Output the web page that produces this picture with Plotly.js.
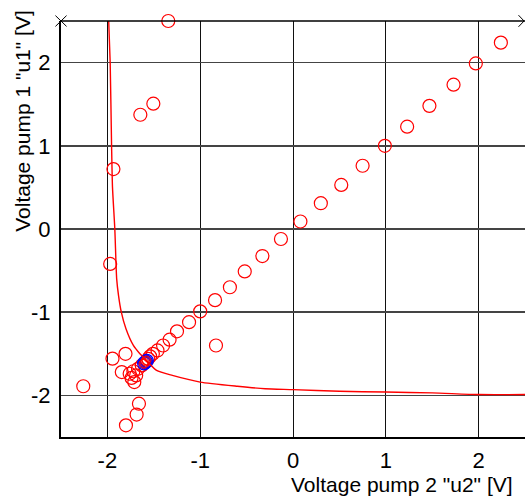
<!DOCTYPE html>
<html><head><meta charset="utf-8">
<script src="https://cdn.plot.ly/plotly-3.0.1.min.js"></script>
<style>html,body{margin:0;padding:0;background:#fff}</style>
</head><body>
<div id="chart" style="width:525px;height:500px"></div>
<script>
// Iteration points (red open circles)
const redX = [2.24, 1.97, 1.73, 1.47, 1.23, 0.99, 0.75, 0.52, 0.30, 0.08, -0.13, -0.33, -0.52, -0.68, -0.84, -1.00, -1.12, -1.25, -1.33, -1.40, -1.46, -1.51, -1.54, -1.56,
  -1.344, -1.505, -1.645, -1.935, -1.97, -0.83, -1.945, -1.805, -1.845, -2.26, -1.66, -1.685, -1.80,
  -1.63, -1.67, -1.72, -1.76, -1.71, -1.74, -1.69];
const redY = [2.24, 1.99, 1.735, 1.48, 1.23, 1.00, 0.76, 0.53, 0.31, 0.09, -0.12, -0.325, -0.51, -0.70, -0.855, -0.99, -1.12, -1.23, -1.33, -1.40, -1.46, -1.50, -1.53, -1.56,
  2.50, 1.506, 1.373, 0.72, -0.42, -1.40, -1.558, -1.50, -1.72, -1.89, -2.10, -2.23, -2.36,
  -1.64, -1.68, -1.71, -1.74, -1.84, -1.79, -1.76];
// Converged points (blue open circles)
const blueX = [-1.575, -1.585, -1.595, -1.605];
const blueY = [-1.585, -1.595, -1.605, -1.615];
// Final cluster drawn on top (red)
const clusterX = [-1.58, -1.59, -1.60, -1.61];
const clusterY = [-1.58, -1.59, -1.61, -1.62];
// Red boundary curve
const curveX = [-1.986, -1.97, -1.955, -1.945, -1.92, -1.90, -1.88, -1.85, -1.80, -1.72, -1.65, -1.57, -1.47, -1.30, -1.00, -0.60, -0.30, 0.00, 0.50, 1.00, 1.50, 2.00, 2.50];
const curveY = [2.50, 2.00, 1.00, 0.50, 0.00, -0.60, -0.80, -1.00, -1.20, -1.40, -1.50, -1.59, -1.70, -1.76, -1.84, -1.89, -1.92, -1.93, -1.95, -1.96, -1.97, -1.99, -1.99];
const tickVals = [-2, -1, 0, 1, 2];
const tickText = ['-2', '-1', '0', '1', '2'];

const mk = (c) => ({symbol: 'circle-open', size: 13, color: c, line: {width: 1.2, color: c}});
const data = [
  {x: redX, y: redY, type: 'scatter', mode: 'markers', marker: mk('#ff0000'), cliponaxis: false, showlegend: false},
  {x: blueX, y: blueY, type: 'scatter', mode: 'markers', marker: mk('#0000ff'), showlegend: false},
  {x: clusterX, y: clusterY, type: 'scatter', mode: 'markers', marker: {symbol: 'circle-open', size: 9, color: '#ff0000', line: {width: 1, color: '#ff0000'}}, showlegend: false},
  {x: curveX, y: curveY, type: 'scatter', mode: 'lines', line: {color: '#ff0000', width: 1.4, shape: 'spline', smoothing: 0.6}, showlegend: false}
];
const F = 'Liberation Sans, Arial, sans-serif';
const layout = {
  width: 525, height: 500,
  margin: {l: 61, r: 0, t: 21, b: 63},
  paper_bgcolor: '#fff', plot_bgcolor: '#fff',
  font: {family: F, size: 21, color: '#000'},
  xaxis: {range: [-2.5, 2.5], tickvals: tickVals, ticktext: tickText, showgrid: true, gridcolor: '#111', gridwidth: 1,
    zeroline: false, showline: true, linecolor: '#000', linewidth: 1.5, ticks: '', ticklabelstandoff: 3,
    tickfont: {family: F, size: 22, color: '#000'}},
  yaxis: {range: [-2.5, 2.5], tickvals: tickVals, ticktext: tickText, showgrid: true, gridcolor: '#444', gridwidth: 1.5,
    zeroline: false, showline: true, linecolor: '#000', linewidth: 2, ticks: '', ticklabelstandoff: 4,
    tickfont: {family: F, size: 22, color: '#000'}},
  shapes: [
    {type: 'line', xref: 'paper', yref: 'paper', x0: 0, x1: 1, y0: 1, y1: 1, line: {color: '#000', width: 1.5}},
    {type: 'line', xref: 'paper', yref: 'paper', x0: -0.012, x1: 0.012, y0: 1.013, y1: 0.987, line: {color: '#000', width: 1}},
    {type: 'line', xref: 'paper', yref: 'paper', x0: -0.012, x1: 0.012, y0: 0.987, y1: 1.013, line: {color: '#000', width: 1}},
    {type: 'line', xref: 'paper', yref: 'paper', x0: 0.986, x1: 0.998, y0: 1.014, y1: 1, line: {color: '#000', width: 1}},
    {type: 'line', xref: 'paper', yref: 'paper', x0: 0.986, x1: 0.998, y0: 0.986, y1: 1, line: {color: '#000', width: 1}}
  ],
  annotations: [
    {text: 'Voltage pump 2 "u2" [V]', xref: 'paper', yref: 'paper', x: 0.978, y: -0.113, xanchor: 'right', yanchor: 'middle', showarrow: false, font: {family: F, size: 21, color: '#000'}},
    {text: 'Voltage pump 1 "u1" [V]', xref: 'paper', yref: 'paper', x: -0.082, y: 0.76, xanchor: 'center', yanchor: 'middle', textangle: -90, showarrow: false, font: {family: F, size: 21, color: '#000'}}
  ]
};
Plotly.newPlot('chart', data, layout, {staticPlot: true, displayModeBar: false});
</script>
</body></html>
